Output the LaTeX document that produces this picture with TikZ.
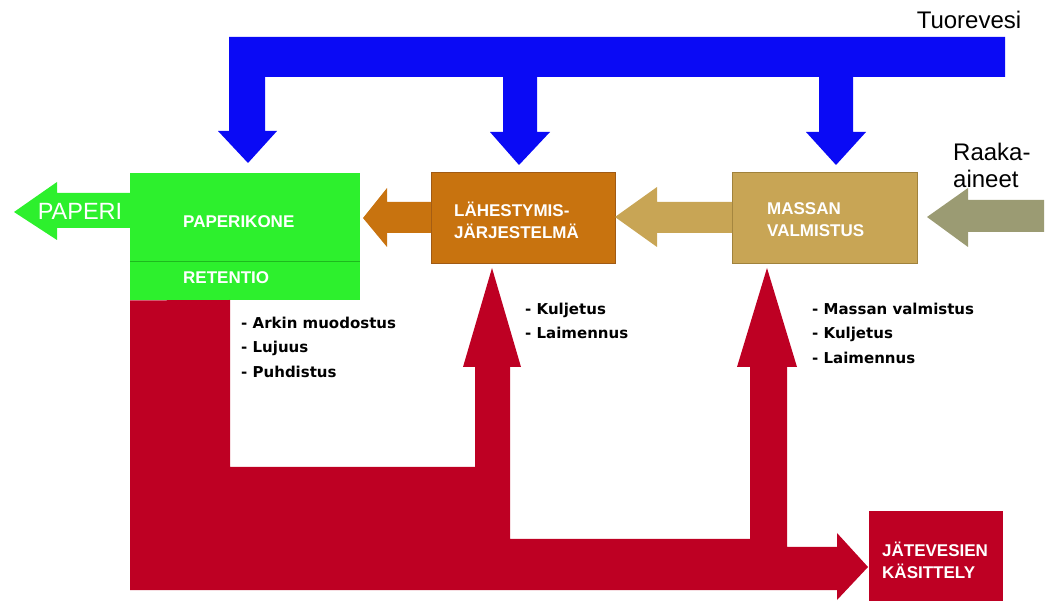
\documentclass[tikz,border=0pt]{standalone}
\usepackage{fontspec}
\setmainfont{Liberation Sans}
\newfontfamily\listfont{DejaVu Sans}
\usetikzlibrary{positioning}
\definecolor{pkgreen}{RGB}{45,240,45}
\definecolor{pkline}{RGB}{30,185,30}
\definecolor{ljorange}{RGB}{200,115,15}
\definecolor{ljborder}{RGB}{160,90,20}
\definecolor{mvtan}{RGB}{200,165,85}
\definecolor{mvborder}{RGB}{160,130,60}
\definecolor{raakagrey}{RGB}{155,155,115}
\definecolor{tuoreblue}{RGB}{10,10,245}
\definecolor{jvred}{RGB}{190,0,35}
\tikzset{
  procbox/.style={inner sep=0pt, anchor=north west},
  boxtext/.style={text=white, font=\fontsize{17}{22}\selectfont\bfseries, align=left, inner sep=0pt, anchor=west},
  listtext/.style={font=\listfont\bfseries\fontsize{15}{24.5}\selectfont, align=left, inner sep=0pt, anchor=west},
  bigtext/.style={font=\fontsize{24}{27}\selectfont, inner sep=0pt}
}
\begin{document}
\begin{tikzpicture}[x=1pt, y=-1pt]
    \useasboundingbox (0,0) rectangle (1053,601);
    \clip (0,0) rectangle (1053,601);
    % Boxes
    \node[procbox, fill=pkgreen, minimum width=230pt, minimum height=127pt] (pk) at (130,173) {};
    \node[procbox, fill=ljorange, draw=ljborder, minimum width=184pt, minimum height=91pt] (lj) at (431,172) {};
    \node[procbox, fill=mvtan, draw=mvborder, minimum width=185pt, minimum height=91pt] (mv) at (732,172) {};
    \node[procbox, fill=jvred, minimum width=134pt, minimum height=100pt] (jv) at (869,511) {};
    \draw[pkline] (pk.west |- 0,261) -- (pk.east |- 0,261);
    % Fresh water
    \fill[tuoreblue] (229,37) -- (1005,37) -- (1005,77) -- (853,77) -- (853,132) -- (866,132)
        -- (836,165) -- (806,132) -- (819,132) -- (819,77) -- (537,77) -- (537,132) -- (550,132)
        -- (519,165) -- (490,132) -- (503,132) -- (503,77) -- (265,77) -- (265,131) -- (277,131)
        -- (248,163) -- (218,131) -- (229,131) -- cycle;
    % Main line, right to left
    \fill[raakagrey] (1044,200) -- (968,200) -- (968,188) -- (927,217) -- (968,247) -- (968,232) -- (1044,232) -- cycle;
    \fill[mvtan] (mv.west |- 0,202) -- (657,202) -- (657,187) -- (615,217) -- (657,247) -- (657,233) -- (mv.west |- 0,233) -- cycle;
    \fill[ljorange] (lj.west |- 0,202) -- (387,202) -- (387,188) -- (363,218) -- (387,247) -- (387,233) -- (lj.west |- 0,233) -- cycle;
    \fill[pkgreen] (pk.west |- 0,193) -- (57,193) -- (57,182) -- (14,212) -- (57,240) -- (57,228) -- (pk.west |- 0,228) -- cycle;
    % Circulation water
    \fill[jvred] (pk.south west) -- (230,300) -- (230,467) -- (475,467) -- (475,367) -- (463,367)
        -- (492,268) -- (521,367) -- (510,367) -- (510,539) -- (750,539) -- (750,367) -- (737,367)
        -- (767,268) -- (797,367) -- (787,367) -- (787,547) -- (837,547) -- (837,533) -- (868,567)
        -- (837,600) -- (837,590) -- (130,590) -- cycle;
    % Texts
    \node[boxtext] (pktxt) at (183,222) {PAPERIKONE};
    \node[boxtext] (rettxt) at (183,278) {RETENTIO};
    \node[boxtext] (ljtxt) at (454,220) {LÄHESTYMIS-\\JÄRJESTELMÄ};
    \node[boxtext] (mvtxt) at (767,220) {MASSAN\\VALMISTUS};
    \node[boxtext] (jvtxt) at (882,560) {JÄTEVESIEN\\KÄSITTELY};
    \node[bigtext, text=white, font=\fontsize{23.5}{27}\selectfont] (paperi) at (80,211) {PAPERI};
    \node[bigtext] (tuore) at (969,20) {Tuorevesi};
    \node[bigtext, anchor=west, align=left] (raaka) at (953,165) {Raaka-\\aineet};
    \node[listtext] (pklist) at (241,347) {- Arkin muodostus\\- Lujuus\\- Puhdistus};
    \node[listtext] (ljlist) at (525,321) {- Kuljetus\\- Laimennus};
    \node[listtext] (mvlist) at (812,333) {- Massan valmistus\\- Kuljetus\\- Laimennus};
\end{tikzpicture}
\end{document}
